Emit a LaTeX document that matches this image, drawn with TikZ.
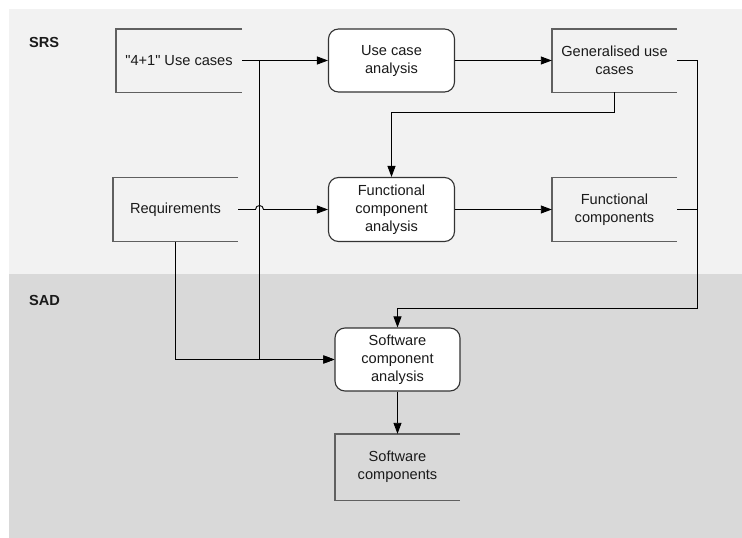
\documentclass[tikz,border=0pt]{standalone}
\usepackage{fontspec}
\setmainfont{Liberation Sans}[Ligatures=TeXOff]
\usetikzlibrary{arrows.meta,calc}
\definecolor{srsbg}{HTML}{F2F2F2}
\definecolor{sadbg}{HTML}{D9D9D9}
\definecolor{docline}{HTML}{606060}
\definecolor{procline}{HTML}{333333}
\definecolor{txt}{HTML}{1A1A1A}
\tikzset{
  proc/.style={draw=procline, line width=1.1pt, fill=white, rounded corners=10pt,
    minimum width=126pt, minimum height=63pt, align=center, inner sep=2pt,
    text=txt, font=\fontsize{14.6}{18}\selectfont},
  doc/.style={minimum width=125pt, minimum height=63pt, align=center, inner sep=2pt,
    text=txt, font=\fontsize{14.6}{18}\selectfont},
  docborder/.style={draw=docline, line width=1.4pt},
  conn/.style={draw=black, line width=0.9pt},
  arr/.style={conn, -{Triangle[length=11pt,width=8pt]}},
  lanelabel/.style={font=\fontsize{14.6}{18}\selectfont\bfseries, text=txt, anchor=west, inner sep=0pt}
}
\begin{document}
\begin{tikzpicture}[x=1pt,y=-1pt]
\useasboundingbox (0,0) rectangle (742,538);
\fill[white] (0,0) rectangle (742,538);
\fill[srsbg] (9,9) rectangle (742,274);
\fill[sadbg] (9,274) rectangle (742,538);
\node[lanelabel] (srs) at (29,42) {SRS};
\node[lanelabel] (sad) at (29,300) {SAD};

% document-like boxes (open on the right)
\node[doc, minimum width=126pt] (uc) at (179,60.5) {"4+1" Use cases};
\node[doc, minimum height=64pt] (req) at (175.5,209.5) {Requirements};
\node[doc] (gen) at (614.5,60.5) {Generalised use\\cases};
\node[doc, minimum height=64pt] (fc) at (614.5,209.5) {Functional\\components};
\node[doc, minimum height=66pt] (sc) at (397.5,467) {Software\\components};
\foreach \n in {uc,req,gen,fc,sc}{
  \draw[docborder] (\n.north east) -- (\n.north west) -- (\n.south west) -- (\n.south east);
}

% process boxes
\node[proc] (uca) at (391.5,60.5) {Use case\\analysis};
\node[proc, minimum height=64pt] (fca) at (391.5,209.5) {Functional\\component\\analysis};
\node[proc, minimum width=125pt] (sca) at (397.5,359.5) {Software\\component\\analysis};

% helper coordinates
\coordinate (j1) at (259.5,60.5);
\coordinate (jmpa) at (255.5,209.5);
\coordinate (jmpb) at (263.5,209.5);
\coordinate (g1) at (614.5,112.5);
\coordinate (r1) at (697.5,60.5);
\coordinate (r2) at (697.5,308.5);
\coordinate (r3) at (697.5,209.5);

% connectors
\draw[arr] (uc.east) -- (uca.west);
\draw[arr] (j1) |- (sca.west);
\draw[arr] (req.south) |- (sca.west);
\draw[arr] (req.east) -- (jmpa) .. controls ($(jmpa)+(0,-5.3)$) and ($(jmpb)+(0,-5.3)$) .. (jmpb) -- (fca.west);
\draw[arr] (uca.east) -- (gen.west);
\draw[arr] (gen.south) -- (g1) -| (fca.north);
\draw[arr] (fca.east) -- (fc.west);
\draw[arr] (gen.east) -- (r1) -- (r2) -| (sca.north);
\draw[conn] (fc.east) -- (r3);
\draw[arr] (sca.south) -- (sc.north);
\end{tikzpicture}
\end{document}
